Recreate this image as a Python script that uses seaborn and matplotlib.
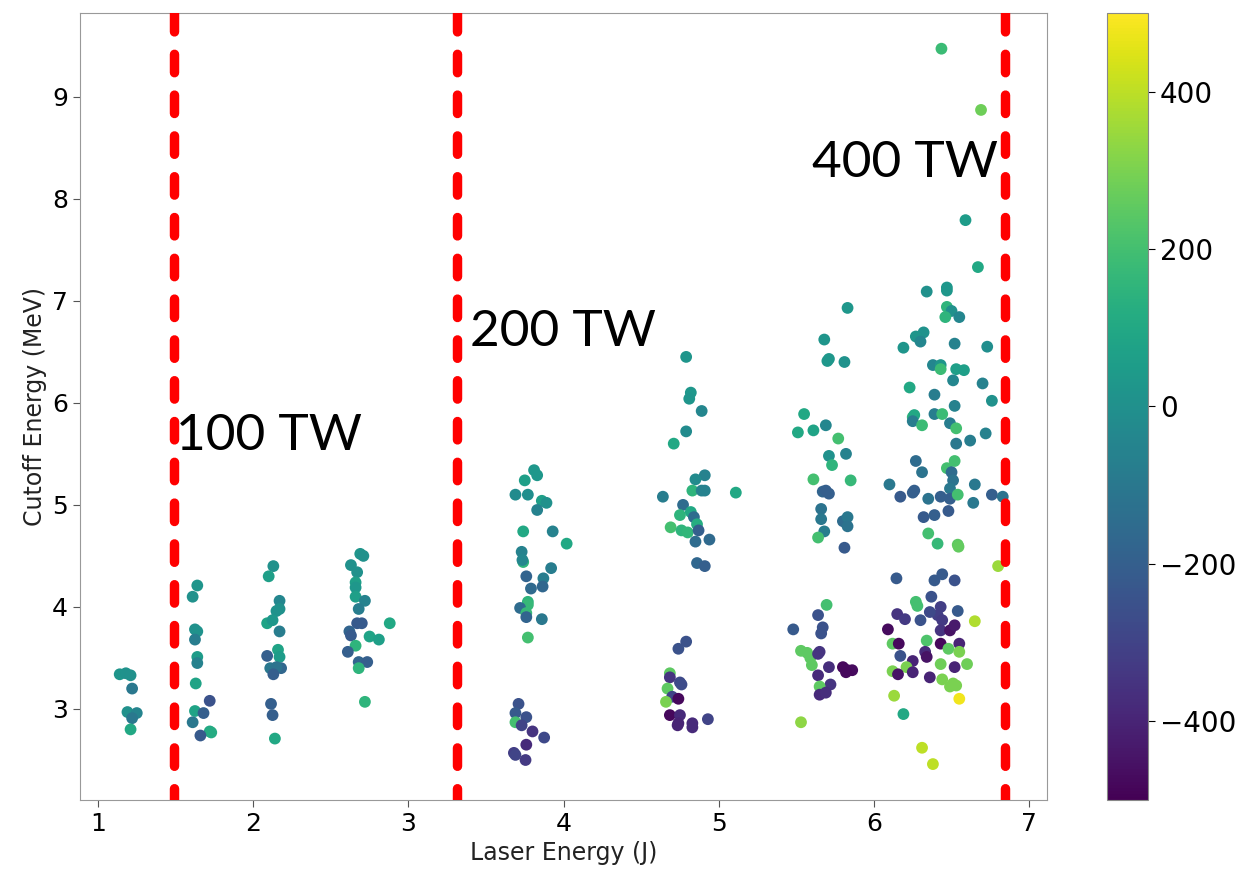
import numpy as np
import pandas as pd
import matplotlib
matplotlib.use("Agg")
import matplotlib.pyplot as plt
import seaborn as sns
from matplotlib.colors import Normalize
from matplotlib.cm import ScalarMappable

# ---------------- data ----------------
laser_energy = [
    # ~1.2 J
    1.14, 1.18, 1.21, 1.22, 1.19, 1.25, 1.22, 1.21,
    # ~1.65 J
    1.64, 1.61, 1.625, 1.64, 1.625, 1.64, 1.64, 1.63, 1.72, 1.625, 1.68, 1.61, 1.72, 1.73, 1.66,
    # ~2.15 J
    2.13, 2.10, 2.17, 2.17, 2.15, 2.09, 2.125, 2.17, 2.16, 2.17, 2.09, 2.11, 2.18, 2.15, 2.13, 2.115, 2.125, 2.14,
    # ~2.7 J
    2.69, 2.71, 2.63, 2.67, 2.66, 2.66, 2.66, 2.72, 2.68, 2.67, 2.70, 2.88, 2.62, 2.63, 2.75, 2.81, 2.66, 2.61,
    2.68, 2.735, 2.68, 2.72,
    # ~3.8 J upper
    3.81, 3.83, 3.75, 3.69, 3.77, 3.86, 3.89, 3.83, 3.74, 3.93, 4.02, 3.73, 3.74, 3.735, 3.92, 3.76, 3.87, 3.79,
    3.865, 3.77, 3.77, 3.72, 3.76, 3.76, 3.86, 3.77,
    # ~3.8 J lower
    3.71, 3.69, 3.76, 3.69, 3.73, 3.80, 3.875, 3.76, 3.68, 3.69, 3.755,
    # ~4.8 J upper
    4.79, 4.82, 4.81, 4.89, 4.79, 4.71, 4.91, 4.85, 4.83, 4.89, 4.91, 5.11, 4.64, 4.77, 4.75, 4.82, 4.84, 4.86,
    4.69, 4.76, 4.80, 4.87, 4.85, 4.94, 4.86, 4.91,
    # ~4.8 J lower
    4.79, 4.74, 4.685, 4.685, 4.75, 4.76, 4.67, 4.70, 4.74, 4.66, 4.685, 4.75, 4.74, 4.735, 4.83, 4.83, 4.93,
    # ~5.7 J upper
    5.83, 5.68, 5.71, 5.70, 5.81, 5.55, 5.51, 5.61, 5.69, 5.77, 5.71, 5.82, 5.73, 5.61, 5.85, 5.67, 5.71, 5.69,
    5.66, 5.66, 5.80, 5.83, 5.83, 5.68, 5.64, 5.81,
    # ~5.7 J lower
    5.695, 5.64, 5.48, 5.67, 5.66, 5.53, 5.57, 5.59, 5.60, 5.65, 5.64, 5.71, 5.80, 5.83, 5.86, 5.82, 5.64, 5.72,
    5.65, 5.65, 5.69, 5.53,
    # ~6.4 J top
    6.435, 6.69, 6.59, 6.67,
    # ~6.4 J upper
    6.34, 6.47, 6.47, 6.47, 6.50, 6.46, 6.55, 6.32, 6.27, 6.30, 6.19, 6.52, 6.73, 6.38, 6.43, 6.43, 6.53, 6.58,
    6.51, 6.70, 6.23, 6.39, 6.76, 6.52, 6.25, 6.26, 6.25, 6.39, 6.44, 6.31, 6.49, 6.53, 6.72, 6.62, 6.53, 6.27,
    6.52, 6.47, 6.31, 6.50, 6.51, 6.10, 6.65, 6.26, 6.25, 6.49, 6.17, 6.35, 6.43, 6.49, 6.54, 6.64, 6.76, 6.83,
    6.32, 6.39, 6.48, 6.35, 6.41, 6.54, 6.545, 6.80,
    # ~6.4 J lower
    6.145, 6.39, 6.44, 6.52, 6.37, 6.27, 6.28, 6.15, 6.20, 6.43, 6.41, 6.44, 6.36, 6.30, 6.54, 6.65, 6.09, 6.43,
    6.49, 6.52, 6.12, 6.16, 6.34, 6.43, 6.48, 6.55, 6.55, 6.17, 6.33, 6.34, 6.25, 6.21, 6.12, 6.155, 6.25, 6.43,
    6.52, 6.60, 6.36, 6.44, 6.49, 6.53, 6.51, 6.55, 6.13, 6.19, 6.31, 6.38,
]

cutoff_energy = [
    3.34, 3.35, 3.33, 3.20, 2.97, 2.96, 2.91, 2.80,
    4.21, 4.10, 3.78, 3.76, 3.68, 3.51, 3.45, 3.25, 3.08, 2.98, 2.96, 2.87, 2.78, 2.77, 2.74,
    4.40, 4.30, 4.06, 3.98, 3.96, 3.84, 3.87, 3.76, 3.58, 3.51, 3.52, 3.40, 3.40, 3.41, 3.34, 3.05, 2.94, 2.71,
    4.52, 4.50, 4.41, 4.34, 4.24, 4.19, 4.10, 4.06, 3.98, 3.84, 3.84, 3.84, 3.76, 3.72, 3.71, 3.68, 3.62, 3.56,
    3.46, 3.46, 3.40, 3.07,
    5.34, 5.29, 5.24, 5.10, 5.10, 5.04, 5.02, 4.95, 4.74, 4.74, 4.62, 4.54, 4.44, 4.46, 4.38, 4.30, 4.28, 4.18,
    4.20, 4.05, 4.02, 3.99, 3.94, 3.90, 3.88, 3.70,
    3.05, 2.96, 2.92, 2.87, 2.84, 2.78, 2.72, 2.65, 2.57, 2.55, 2.50,
    6.45, 6.10, 6.04, 5.92, 5.72, 5.60, 5.29, 5.25, 5.14, 5.14, 5.14, 5.12, 5.08, 5.00, 4.90, 4.93, 4.88, 4.81,
    4.78, 4.75, 4.73, 4.75, 4.64, 4.66, 4.43, 4.40,
    3.66, 3.59, 3.35, 3.31, 3.26, 3.24, 3.20, 3.12, 3.10, 3.07, 2.94, 2.94, 2.86, 2.84, 2.86, 2.82, 2.90,
    6.93, 6.62, 6.43, 6.41, 6.40, 5.89, 5.71, 5.73, 5.78, 5.65, 5.48, 5.50, 5.39, 5.25, 5.24, 5.13, 5.11, 5.14,
    4.96, 4.86, 4.84, 4.88, 4.79, 4.74, 4.68, 4.58,
    4.02, 3.92, 3.78, 3.80, 3.74, 3.57, 3.55, 3.50, 3.43, 3.56, 3.54, 3.41, 3.41, 3.38, 3.38, 3.36, 3.33, 3.24,
    3.22, 3.14, 3.16, 2.87,
    9.47, 8.87, 7.79, 7.33,
    7.09, 7.13, 7.10, 6.94, 6.90, 6.84, 6.84, 6.69, 6.65, 6.60, 6.54, 6.58, 6.55, 6.37, 6.37, 6.33, 6.33, 6.32,
    6.22, 6.19, 6.15, 6.08, 6.02, 5.97, 5.86, 5.88, 5.82, 5.89, 5.89, 5.78, 5.80, 5.75, 5.70, 5.63, 5.60, 5.43,
    5.43, 5.36, 5.32, 5.32, 5.24, 5.20, 5.20, 5.14, 5.12, 5.16, 5.08, 5.06, 5.08, 5.06, 5.10, 5.02, 5.10, 5.08,
    4.88, 4.90, 4.94, 4.72, 4.62, 4.61, 4.59, 4.40,
    4.28, 4.26, 4.32, 4.26, 4.10, 4.05, 4.01, 3.93, 3.88, 4.00, 3.92, 3.87, 3.95, 3.87, 3.96, 3.86, 3.78, 3.77,
    3.77, 3.82, 3.64, 3.64, 3.67, 3.64, 3.59, 3.64, 3.56, 3.52, 3.56, 3.51, 3.47, 3.41, 3.37, 3.34, 3.36, 3.44,
    3.41, 3.44, 3.31, 3.29, 3.22, 3.23, 3.25, 3.10, 3.13, 2.95, 2.62, 2.46,
]

color_value = [
    20, 10, 0, -100, 0, -50, -100, 100,
    20, 0, 0, 10, -80, 50, -60, 80, -250, 80, -200, -100, 100, 110, -220,
    0, 60, -40, 0, 10, 80, 30, -80, 80, 50, -200, -100, -170, -120, -200, -200, -200, 100,
    20, 0, 0, 0, 60, 30, 60, -60, -80, -220, -220, 100, -180, -220, 80, 60, 150, -200,
    -180, -200, 150, 150,
    30, 30, 60, -20, -10, 60, 0, -60, 100, -60, 100, -60, 150, -40, -80, -180, -80, -160,
    -170, 150, 170, -150, 170, -180, -100, 200,
    -250, -220, -250, 200, -300, -350, -280, -380, -320, -300, -330,
    20, 30, 20, -40, -20, 100, -60, -20, 150, -60, -60, 100, -80, -150, 150, 100, -150, 120,
    200, 150, 160, -200, -150, -160, -170, -200,
    -250, -250, 250, -350, -280, -270, 250, -300, -480, 300, -480, -380, -400, -400, -380, -380, -300,
    30, 20, 30, 30, 10, 100, 100, 80, -40, 200, 0, -60, 150, 200, 170, -180, -200, -200,
    -120, -100, -150, -100, -120, -80, 200, -220,
    200, -250, -220, -250, -250, 250, 250, 250, 250, -350, -350, -370, -480, -480, -470, -480, -380, -350,
    250, -380, -370, 330,
    180, 280, 50, 100,
    0, 30, 30, 150, 0, 150, -40, 10, 20, -40, 20, -60, -10, -40, 20, 180, 60, 60,
    -40, -60, 100, -80, 0, -60, 150, 100, -80, -80, 180, 180, -80, 200, -60, -80, -100, -150,
    200, 200, -120, -150, -120, -100, -100, -200, -200, -100, -220, -120, -200, -200, 200, -100, -200, -120,
    -220, -200, -220, 200, 170, 250, 260, 350,
    -220, -220, -220, -250, -250, 200, 200, -350, -330, -320, -320, -330, -280, -250, -220, 380, -470, -350,
    -450, -430, 250, -480, 220, -480, 250, -400, 300, -250, -380, -450, -400, 300, 300, -450, -400, 280,
    -400, 280, -400, 300, 300, 300, 300, 480, 350, 100, 400, 400,
]

power_lines = [1.49, 3.313, 6.845]
power_labels = ["100 TW", "200 TW", "400 TW"]
label_pos_x = [1.50, 3.40, 5.60]
label_pos_y = [5.67, 6.69, 8.35]
cbar_ticks = [-400, -200, 0, 200, 400]

# ---------------- figure ----------------
df = pd.DataFrame({"Laser Energy (J)": laser_energy,
                   "Cutoff Energy (MeV)": cutoff_energy,
                   "value": color_value})

fig = plt.figure(figsize=(12.38, 8.71), dpi=100)
ax = fig.add_axes([0.0646, 0.0815, 0.7811, 0.9036])
cax = fig.add_axes([0.8942, 0.0815, 0.0331, 0.9036])

norm = Normalize(vmin=-500, vmax=500)
sns.scatterplot(data=df, x="Laser Energy (J)", y="Cutoff Energy (MeV)", hue="value",
                palette="viridis", hue_norm=norm, s=72, linewidth=0, legend=False,
                ax=ax, zorder=2)

ax.set_xlim(0.884, 7.115)
ax.set_ylim(2.108, 9.82)
ax.set_xticks([1, 2, 3, 4, 5, 6, 7])
ax.set_yticks([3, 4, 5, 6, 7, 8, 9])

ytop, ybot = ax.get_ylim()[1], ax.get_ylim()[0]
for xv in power_lines:
    ax.plot([xv, xv], [ytop, ybot], color="red", lw=6.8, linestyle=(0, (1.95, 2.37)),
            dash_capstyle="round", zorder=3)

for txt, tx, ty in zip(power_labels, label_pos_x, label_pos_y):
    ax.text(tx, ty, txt, fontsize=37, family="Lato", color="black",
            ha="left", va="center", zorder=4)

ax.tick_params(labelsize=18, length=5, color="#555555")
ax.set_xlabel("Laser Energy (J)", fontsize=17, color="#222222")
ax.set_ylabel("Cutoff Energy (MeV)", fontsize=17, color="#222222")
for sp in ax.spines.values():
    sp.set_color("#999999")

sm = ScalarMappable(norm=norm, cmap="viridis")
sm.set_array([])
cb = fig.colorbar(sm, cax=cax, ticks=cbar_ticks)
cb.ax.tick_params(labelsize=20, length=5)
cb.outline.set_edgecolor("#888888")

fig.savefig("out.png", dpi=100)
